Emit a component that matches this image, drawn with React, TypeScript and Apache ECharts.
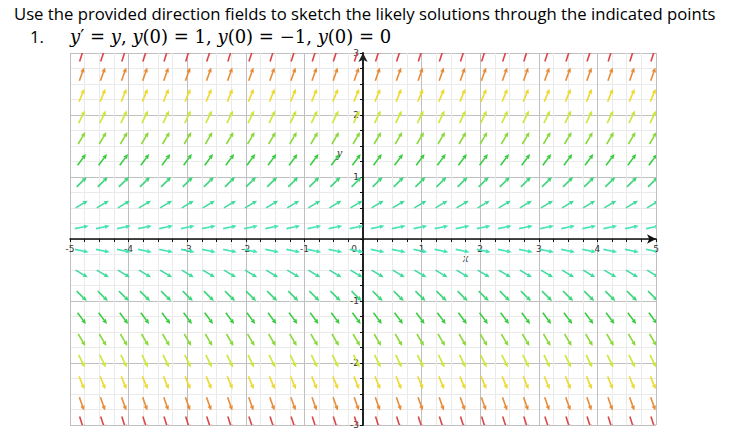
import React, { useEffect, useRef } from "react";
import * as echarts from "echarts";

// Sample points of the direction field (data units)
const xCols = [-4.8, -4.44, -4.08, -3.72, -3.36, -2.99, -2.63, -2.27, -1.91, -1.55, -1.19, -0.83, -0.47, -0.11,
  0.25, 0.61, 0.98, 1.34, 1.7, 2.06, 2.42, 2.78, 3.14, 3.5, 3.86, 4.22, 4.59, 4.95];
const yLevels = [0.19, 0.56, 0.92, 1.28, 1.63, 1.97, 2.32, 2.66, 2.97];
const levelColors = ["#45e4b6", "#3edb9c", "#3bd679", "#38cc3e", "#8bd83a", "#cde638", "#ecd932", "#e68c38", "#dc4646"];
const xTicks = ["-5", "-4", "-3", "-2", "-1", "0", "1", "2", "3", "4", "5"];
const yTicks = ["-3", "-2", "-1", "", "1", "2", "3"];

// the differential equation y' = y
const slope = (_x: number, y: number) => y;

export default function App() {
  const ref = useRef<HTMLDivElement>(null);
  useEffect(() => {
    if (!ref.current) return;
    const chart = echarts.init(ref.current, null, { renderer: "svg" });
    const data: number[][] = [];
    yLevels.forEach((yv, li) => {
      [yv, -yv].forEach((y) => {
        xCols.forEach((x) => data.push([x, y, li]));
      });
    });
    const labelStyle = { fontFamily: "DejaVu Sans", fontSize: 9, color: "#333" };
    chart.setOption({
      animation: false,
      backgroundColor: "#fff",
      grid: { left: 70, right: 88, top: 53, bottom: 16, containLabel: false },
      xAxis: {
        type: "value", min: -5, max: 5, interval: 1, position: "bottom", offset: -186,
        axisLine: { onZero: false, lineStyle: { color: "#111", width: 1.5 }, symbol: ["none", "arrow"], symbolSize: [7, 9] },
        axisTick: { show: true, length: 3, lineStyle: { color: "#111" } },
        minorTick: { show: true, splitNumber: 4, length: 3, lineStyle: { color: "#111" } },
        splitLine: { show: true, lineStyle: { color: "#c0c0c0", width: 1 } },
        minorSplitLine: { show: true, lineStyle: { color: "#eaeaea", width: 1 } },
        axisLabel: {
          ...labelStyle, margin: 5, showMinLabel: true, showMaxLabel: true,
          formatter: (v: number) => {
            const t = xTicks[Math.round(v) + 5];
            return t === "0" ? "{z|0}" : t;
          },
          rich: { z: { ...labelStyle, padding: [0, 18, 0, 0] } },
        },
      },
      yAxis: {
        type: "value", min: -3, max: 3, interval: 1, position: "left", offset: -293,
        axisLine: { onZero: false, lineStyle: { color: "#222", width: 2 }, symbol: ["none", "arrow"], symbolSize: [7, 9] },
        axisTick: { show: true, length: 3, lineStyle: { color: "#111" } },
        minorTick: { show: true, splitNumber: 4, length: 3, lineStyle: { color: "#111" } },
        splitLine: { show: true, lineStyle: { color: "#c0c0c0", width: 1 } },
        minorSplitLine: { show: true, lineStyle: { color: "#eaeaea", width: 1 } },
        axisLabel: {
          ...labelStyle, margin: 4, showMinLabel: true, showMaxLabel: true,
          formatter: (v: number) => yTicks[Math.round(v) + 3],
        },
      },
      series: [
        {
          type: "custom",
          clip: true,
          data,
          renderItem: (_params: any, api: any) => {
            const x = api.value(0);
            const y = api.value(1);
            const color = levelColors[api.value(2)];
            const p = api.coord([x, y]);
            const m = slope(x, y);
            const q = api.coord([x + 0.2, y + 0.2 * m]);
            let dx = q[0] - p[0];
            let dy = q[1] - p[1];
            const n = Math.hypot(dx, dy);
            dx /= n; dy /= n;
            const L = 14, H = 4.8, W = 2.2;
            const x0 = p[0] - (dx * L) / 2, y0 = p[1] - (dy * L) / 2;
            const x1 = p[0] + (dx * L) / 2, y1 = p[1] + (dy * L) / 2;
            const bx = x1 - dx * H, by = y1 - dy * H;
            return {
              type: "group",
              children: [
                { type: "line", shape: { x1: x0, y1: y0, x2: bx, y2: by }, style: { stroke: color, lineWidth: 1.6 } },
                {
                  type: "polygon",
                  shape: { points: [[x1, y1], [bx - dy * W, by + dx * W], [bx + dy * W, by - dx * W]] },
                  style: { fill: color },
                },
              ],
            };
          },
        },
      ],
      graphic: [
        {
          type: "text", left: 14, top: 5,
          style: {
            text: "Use the provided direction fields to sketch the likely solutions through the indicated points",
            fontFamily: "Open Sans", fontSize: 16.7, fill: "#000",
          },
        },
        {
          type: "text", left: 30, top: 28,
          style: { text: "1.", fontFamily: "Open Sans", fontSize: 16.7, fill: "#000" },
        },
        {
          type: "text", left: 70, top: 27,
          style: {
            text: "{i|y}′ = {i|y}, {i|y}(0) = 1, {i|y}(0) = −1, {i|y}(0) = 0",
            fontFamily: "DejaVu Serif", fontSize: 18, fill: "#000",
            rich: { i: { fontFamily: "DejaVu Serif", fontStyle: "italic", fontSize: 18, fill: "#000" } },
          },
        },
        {
          type: "text", left: 463, top: 252,
          style: { text: "x", fontFamily: "Liberation Serif", fontStyle: "italic", fontSize: 12, fill: "#333" },
        },
        {
          type: "text", left: 337, top: 147,
          style: { text: "y", fontFamily: "Liberation Serif", fontStyle: "italic", fontSize: 12, fill: "#333" },
        },
      ],
    });
    return () => chart.dispose();
  }, []);
  return <div ref={ref} style={{ position: "fixed", left: 0, top: 0, width: 744, height: 441 }} />;
}
